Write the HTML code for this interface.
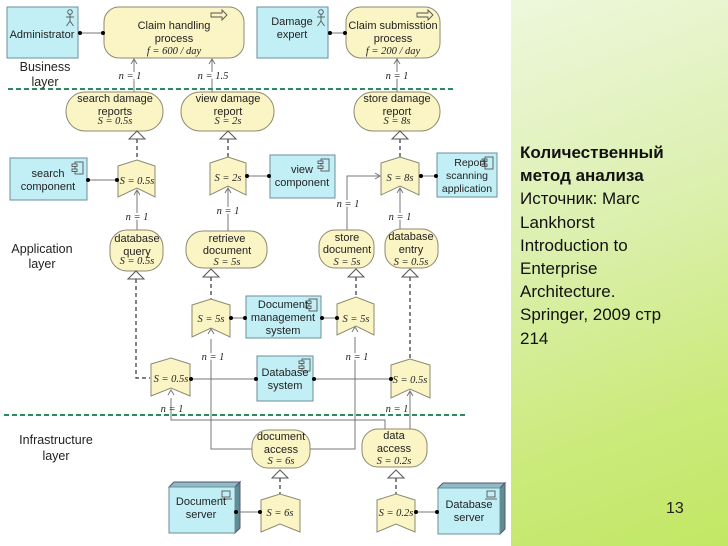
<!DOCTYPE html>
<html><head><meta charset="utf-8"><style>
body{margin:0;width:728px;height:546px;overflow:hidden;background:#fff;position:relative;font-family:"Liberation Sans",sans-serif}
#g{position:absolute;left:511px;top:0;width:217px;height:546px;background:linear-gradient(160deg,#eef7dc 0%,#dcf0b0 40%,#cbea7c 75%,#c2e764 100%)}
#t{position:absolute;left:520px;top:141px;font-size:17px;line-height:23.2px;color:#111}
#n{position:absolute;left:666px;top:500px;font-size:16px;color:#222}
svg{position:absolute;left:0;top:0}
.y{fill:#fbf4c4;stroke:#8a8a70;stroke-width:1}
.c{fill:#c2eff6;stroke:#6a8f98;stroke-width:1}
.l{stroke:#777;stroke-width:1;fill:none}
.ic{stroke:#555;stroke-width:0.9;fill:none}
.d{stroke:#333;stroke-width:1.2;fill:none;stroke-dasharray:4,3}
text{font-family:"Liberation Sans",sans-serif;font-size:11px;fill:#222;text-anchor:middle}
.m{font-family:"Liberation Serif",serif;font-style:italic;font-size:10.5px}
.tr{fill:#fff;stroke:#555}
</style></head><body>
<div id="g"></div>
<div id="t"><b>Количественный<br>метод анализа</b><br>Источник: Marc<br>Lankhorst<br>Introduction to<br>Enterprise<br>Architecture.<br>Springer, 2009 стр<br>214</div>
<div id="n">13</div>
<svg width="511" height="546" viewBox="0 0 511 546">
<defs>
<g id="actor" class="ic"><circle cx="0" cy="-5" r="2.3"/><line x1="0" y1="-2.7" x2="0" y2="4"/><line x1="-4" y1="0" x2="4" y2="0"/><path d="M-3.5 9 L0 4 L3.5 9"/></g>
<g id="proc" class="ic"><path d="M-8 -2 L3 -2 L3 -5 L8 0 L3 5 L3 2 L-8 2 Z"/></g>
<g id="comp" class="ic"><rect x="-3" y="-6" width="8" height="12" fill="#c2eff6"/><rect x="-6" y="-4" width="5" height="2.5" fill="#c2eff6"/><rect x="-6" y="1" width="5" height="2.5" fill="#c2eff6"/></g>
<g id="lap" class="ic"><rect x="-4" y="-4" width="8" height="6"/><path d="M-6 4 L6 4"/></g>
</defs>
<line x1="8" y1="89" x2="456" y2="89" stroke="#2e8a60" stroke-width="2" stroke-dasharray="5,3"/>
<line x1="4" y1="415" x2="467" y2="415" stroke="#2e8a60" stroke-width="2" stroke-dasharray="5,3"/>
<rect class="c" x="7" y="7" width="71" height="51"/>
<use href="#actor" x="70" y="17"/>
<text x="42" y="38">Administrator</text>
<rect class="y" x="104" y="7" width="140" height="51" rx="15"/>
<use href="#proc" x="219" y="15"/>
<text x="174" y="29">Claim handling</text><text x="174" y="42">process</text><text class="m" x="174" y="54">f = 600 / day</text>
<rect class="c" x="257" y="7" width="71" height="51"/>
<use href="#actor" x="321" y="17"/>
<text x="292" y="25">Damage</text><text x="292" y="38">expert</text>
<rect class="y" x="346" y="7" width="94" height="51" rx="15"/>
<use href="#proc" x="425" y="15"/>
<text x="393" y="29">Claim submisstion</text><text x="393" y="42">process</text><text class="m" x="393" y="54">f = 200 / day</text>
<g class="l"><line x1="80" y1="33" x2="103" y2="33"/><line x1="330" y1="33" x2="345" y2="33"/></g>
<circle cx="80" cy="33" r="2"/><circle cx="103" cy="33" r="2"/><circle cx="330" cy="33" r="2"/><circle cx="345" cy="33" r="2"/>
<text x="45" y="71" style="font-size:12.5px">Business</text><text x="45" y="86" style="font-size:12.5px">layer</text>
<g class="l"><line x1="134" y1="92" x2="134" y2="59"/><line x1="212" y1="92" x2="212" y2="59"/><line x1="397" y1="92" x2="397" y2="59"/>
<path d="M131 64 L134 59 L137 64M209 64 L212 59 L215 64M394 64 L397 59 L400 64"/></g>
<text class="m" x="130" y="79" style="fill:#fff;stroke:#fff;stroke-width:4">n = 1</text><text class="m" x="130" y="79">n = 1</text>
<text class="m" x="213" y="79" style="fill:#fff;stroke:#fff;stroke-width:4">n = 1.5</text><text class="m" x="213" y="79">n = 1.5</text>
<text class="m" x="397" y="79" style="fill:#fff;stroke:#fff;stroke-width:4">n = 1</text><text class="m" x="397" y="79">n = 1</text>
<rect class="y" x="66" y="92" width="97" height="39" rx="19"/>
<text x="115" y="102">search damage</text><text x="115" y="115">reports</text><text class="m" x="115" y="124">S = 0.5s</text>
<rect class="y" x="181" y="92" width="93" height="39" rx="19"/>
<text x="228" y="102">view damage</text><text x="228" y="115">report</text><text class="m" x="228" y="124">S = 2s</text>
<rect class="y" x="354" y="92" width="86" height="39" rx="19"/>
<text x="397" y="102">store damage</text><text x="397" y="115">report</text><text class="m" x="397" y="124">S = 8s</text>
<line class="d" x1="137" y1="139" x2="137" y2="162"/><polygon class="tr" points="137,131 129,139 145,139"/>
<line class="d" x1="228" y1="139" x2="228" y2="159"/><polygon class="tr" points="228,131 220,139 236,139"/>
<line class="d" x1="400" y1="139" x2="400" y2="159"/><polygon class="tr" points="400,131 392,139 408,139"/>
<rect class="c" x="10" y="158" width="77" height="42"/>
<use href="#comp" x="78" y="168"/>
<text x="48" y="177">search</text><text x="48" y="190">component</text>
<rect class="c" x="270" y="155" width="65" height="43"/>
<use href="#comp" x="324" y="165"/>
<text x="302" y="173">view</text><text x="302" y="186">component</text>
<rect class="c" x="437" y="153" width="60" height="44"/>
<use href="#comp" x="488" y="163"/>
<text x="470" y="166" style="font-size:10.5px">Report</text><text x="467" y="179" style="font-size:10.5px">scanning</text><text x="467" y="192" style="font-size:10.5px">application</text>
<polygon class="y" points="118,166 137,160 155,166 155,197 137,188 118,197"/><text class="m" x="137" y="184">S = 0.5s</text>
<polygon class="y" points="210,163 228,157 246,163 246,195 228,186 210,195"/><text class="m" x="228" y="181">S = 2s</text>
<polygon class="y" points="381,163 400,157 419,163 419,195 400,186 381,195"/><text class="m" x="400" y="181">S = 8s</text>
<g class="l"><line x1="88" y1="180" x2="117" y2="180"/><line x1="247" y1="176" x2="269" y2="176"/><line x1="420" y1="176" x2="436" y2="176"/></g>
<circle cx="88" cy="180" r="2"/><circle cx="117" cy="180" r="2"/><circle cx="247" cy="176" r="2"/><circle cx="269" cy="176" r="2"/><circle cx="421" cy="176" r="2"/><circle cx="436" cy="176" r="2"/>
<g class="l">
<line x1="137" y1="230" x2="137" y2="190"/><path d="M134 195 L137 190 L140 195"/>
<line x1="228" y1="231" x2="228" y2="188"/><path d="M225 193 L228 188 L231 193"/>
<path d="M347 230 L347 176 L380 176"/><path d="M375 173 L380 176 L375 179"/>
<line x1="400" y1="229" x2="400" y2="188"/><path d="M397 193 L400 188 L403 193"/>
</g>
<text class="m" x="137" y="220" style="fill:#fff;stroke:#fff;stroke-width:4">n = 1</text><text class="m" x="137" y="220">n = 1</text>
<text class="m" x="228" y="214" style="fill:#fff;stroke:#fff;stroke-width:4">n = 1</text><text class="m" x="228" y="214">n = 1</text>
<text class="m" x="348" y="207" style="fill:#fff;stroke:#fff;stroke-width:4">n = 1</text><text class="m" x="348" y="207">n = 1</text>
<text class="m" x="400" y="220" style="fill:#fff;stroke:#fff;stroke-width:4">n = 1</text><text class="m" x="400" y="220">n = 1</text>
<text x="42" y="253" style="font-size:12.5px">Application</text><text x="42" y="268" style="font-size:12.5px">layer</text>
<rect class="y" x="110" y="230" width="53" height="41" rx="17"/>
<text x="137" y="242">database</text><text x="137" y="255">query</text><text class="m" x="137" y="264">S = 0.5s</text>
<rect class="y" x="186" y="231" width="81" height="37" rx="17"/>
<text x="227" y="242">retrieve</text><text x="227" y="254">document</text><text class="m" x="227" y="265">S = 5s</text>
<rect class="y" x="319" y="230" width="55" height="38" rx="16"/>
<text x="347" y="241">store</text><text x="347" y="253">document</text><text class="m" x="347" y="265">S = 5s</text>
<rect class="y" x="385" y="229" width="53" height="39" rx="16"/>
<text x="411" y="240">database</text><text x="411" y="253">entry</text><text class="m" x="411" y="265">S = 0.5s</text>
<path class="d" d="M136 279 L136 378 L150 378"/><polygon class="tr" points="136,271 128,279 144,279"/>
<line class="d" x1="211" y1="277" x2="211" y2="300"/><polygon class="tr" points="211,269 203,277 219,277"/>
<line class="d" x1="356" y1="277" x2="356" y2="298"/><polygon class="tr" points="356,269 348,277 364,277"/>
<line class="d" x1="410" y1="277" x2="410" y2="360"/><polygon class="tr" points="410,269 402,277 418,277"/>
<polygon class="y" points="192,305 211,299 230,305 230,337 211,328 192,337"/><text class="m" x="211" y="322">S = 5s</text>
<rect class="c" x="246" y="296" width="75" height="42"/>
<use href="#comp" x="312" y="305"/>
<text x="283" y="308">Document</text><text x="283" y="321">management</text><text x="283" y="334">system</text>
<polygon class="y" points="337,304 356,297 374,304 374,335 356,326 337,335"/><text class="m" x="356" y="322">S = 5s</text>
<g class="l"><line x1="231" y1="318" x2="245" y2="318"/><line x1="322" y1="318" x2="336" y2="318"/></g>
<circle cx="231" cy="318" r="2"/><circle cx="245" cy="318" r="2"/><circle cx="322" cy="318" r="2"/><circle cx="337" cy="318" r="2"/>
<polygon class="y" points="151,364 171,358 190,364 190,396 171,388 151,396"/><text class="m" x="171" y="382">S = 0.5s</text>
<rect class="c" x="257" y="356" width="56" height="45"/>
<use href="#comp" x="305" y="365"/>
<text x="285" y="376">Database</text><text x="285" y="389">system</text>
<polygon class="y" points="391,365 410,359 430,365 430,398 410,389 391,398"/><text class="m" x="410" y="383">S = 0.5s</text>
<g class="l"><line x1="191" y1="379" x2="256" y2="379"/><line x1="314" y1="379" x2="390" y2="379"/></g>
<circle cx="191" cy="379" r="2"/><circle cx="256" cy="379" r="2"/><circle cx="314" cy="379" r="2"/><circle cx="391" cy="379" r="2"/>
<g class="l">
<path d="M211 339 L211 449 L252 449"/><path d="M208 334 L211 329 L214 334"/>
<path d="M355 337 L355 449 L310 449"/><path d="M352 332 L355 327 L358 332"/>
<path d="M171 398 L171 420 L385 420 L385 430"/><path d="M168 395 L171 390 L174 395"/>
<line x1="410" y1="430" x2="410" y2="391"/><path d="M407 396 L410 391 L413 396"/>
</g>
<text class="m" x="213" y="360" style="fill:#fff;stroke:#fff;stroke-width:4">n = 1</text><text class="m" x="213" y="360">n = 1</text>
<text class="m" x="357" y="360" style="fill:#fff;stroke:#fff;stroke-width:4">n = 1</text><text class="m" x="357" y="360">n = 1</text>
<text class="m" x="172" y="412">n = 1</text><text class="m" x="397" y="412">n = 1</text>
<text x="56" y="444" style="font-size:12.5px">Infrastructure</text><text x="56" y="460" style="font-size:12.5px">layer</text>
<rect class="y" x="252" y="430" width="58" height="38" rx="16"/>
<text x="281" y="440">document</text><text x="281" y="453">access</text><text class="m" x="281" y="464">S = 6s</text>
<rect class="y" x="362" y="429" width="65" height="38" rx="16"/>
<text x="394" y="439">data</text><text x="394" y="452">access</text><text class="m" x="394" y="464">S = 0.2s</text>
<line class="d" x1="280" y1="478" x2="280" y2="495"/><polygon class="tr" points="280,470 272,478 288,478"/>
<line class="d" x1="396" y1="478" x2="396" y2="495"/><polygon class="tr" points="396,470 388,478 404,478"/>
<polygon class="y" points="261,500 280,494 300,500 300,532 280,524 261,532"/><text class="m" x="280" y="516">S = 6s</text>
<polygon class="y" points="377,500 396,494 415,500 415,532 396,524 377,532"/><text class="m" x="396" y="516">S = 0.2s</text>
<polygon points="169,487 174,482 240,482 235,487" fill="#8fbcc4" stroke="#557"/>
<polygon points="235,487 240,482 240,528 235,533" fill="#5f8d95" stroke="#557"/>
<rect class="c" x="169" y="487" width="66" height="46"/>
<use href="#lap" x="226" y="495"/>
<text x="201" y="505">Document</text><text x="201" y="518">server</text>
<polygon points="438,488 443,483 505,483 500,488" fill="#8fbcc4" stroke="#557"/>
<polygon points="500,488 505,483 505,529 500,534" fill="#5f8d95" stroke="#557"/>
<rect class="c" x="438" y="488" width="62" height="46"/>
<use href="#lap" x="491" y="495"/>
<text x="469" y="508">Database</text><text x="469" y="521">server</text>
<g class="l"><line x1="236" y1="512" x2="260" y2="512"/><line x1="416" y1="512" x2="437" y2="512"/></g>
<circle cx="236" cy="512" r="2"/><circle cx="260" cy="512" r="2"/><circle cx="416" cy="512" r="2"/><circle cx="437" cy="512" r="2"/>
</svg>
</body></html>
